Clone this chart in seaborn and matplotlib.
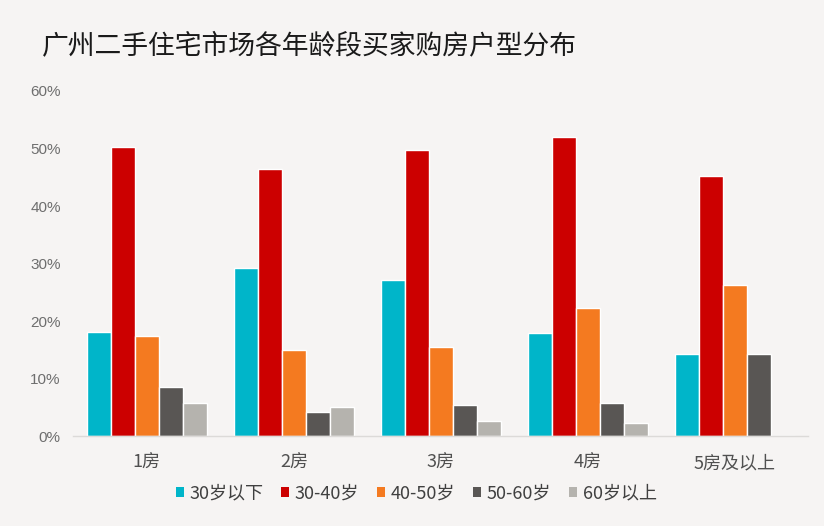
import matplotlib
matplotlib.use("Agg")
import matplotlib.pyplot as plt
import seaborn as sns
import pandas as pd
from matplotlib.ticker import FuncFormatter
from matplotlib.patches import Patch

categories = ["1房", "2房", "3房", "4房", "5房及以上"]
age_groups = ["30岁以下", "30-40岁", "40-50岁", "50-60岁", "60岁以上"]
v_under30 = [18.1, 29.2, 27.1, 17.9, 14.3]
v_30_40 = [50.2, 46.4, 49.8, 52.0, 45.2]
v_40_50 = [17.4, 15.0, 15.4, 22.3, 26.2]
v_50_60 = [8.5, 4.2, 5.4, 5.8, 14.3]
v_over60 = [5.8, 5.0, 2.6, 2.2, 0.0]
colors = ["#00b5c9", "#cc0000", "#f47a20", "#595654", "#b5b3ae"]

series = [v_under30, v_30_40, v_40_50, v_50_60, v_over60]
rows = []
for g, vals in zip(age_groups, series):
    for c, v in zip(categories, vals):
        rows.append({"户型": c, "年龄": g, "占比": v})
df = pd.DataFrame(rows)

sns.set_theme(style="white")
plt.rcParams["font.family"] = ["Noto Sans CJK SC", "DejaVu Sans"]

bg = "#f6f4f3"
fig = plt.figure(figsize=(8.24, 5.26), dpi=100, facecolor=bg)
ax = fig.add_axes([0.089, 0.171, 0.892, 0.656], facecolor=bg)

sns.barplot(data=df, x="户型", y="占比", hue="年龄", order=categories,
            hue_order=age_groups, palette=colors, saturation=1, width=0.82,
            edgecolor="white", linewidth=1.0, ax=ax, legend=False)

ax.set_ylim(0, 60)
ax.set_xlim(-0.5, 4.5)
ax.set_yticks(range(0, 61, 10))
ax.yaxis.set_major_formatter(FuncFormatter(lambda v, p: f"{int(v)}%"))
ax.set_xlabel("")
ax.set_ylabel("")
for s in ["top", "right", "left"]:
    ax.spines[s].set_visible(False)
ax.spines["bottom"].set_color("#dcdad8")
ax.spines["bottom"].set_linewidth(1.0)
ax.tick_params(axis="y", length=0, labelsize=11, labelcolor="#6e6e6e", pad=9)
ax.tick_params(axis="x", length=0, labelsize=13, labelcolor="#505050", pad=13)
for lab in ax.get_yticklabels():
    lab.set_fontfamily(["Liberation Sans", "DejaVu Sans"])

fig.text(0.051, 0.914, "广州二手住宅市场各年龄段买家购房户型分布", fontsize=19.3,
         color="#1a1a1a", ha="left", va="center")

handles = [Patch(facecolor=c, edgecolor="none") for c in colors]
fig.legend(handles, age_groups, loc="center", bbox_to_anchor=(0.505, 0.062),
           ncol=5, frameon=False, fontsize=13, handlelength=0.45, handleheight=0.45,
           handletextpad=0.3, columnspacing=1.0, labelcolor="#404040")

fig.savefig("out.png", dpi=100, facecolor=bg)
